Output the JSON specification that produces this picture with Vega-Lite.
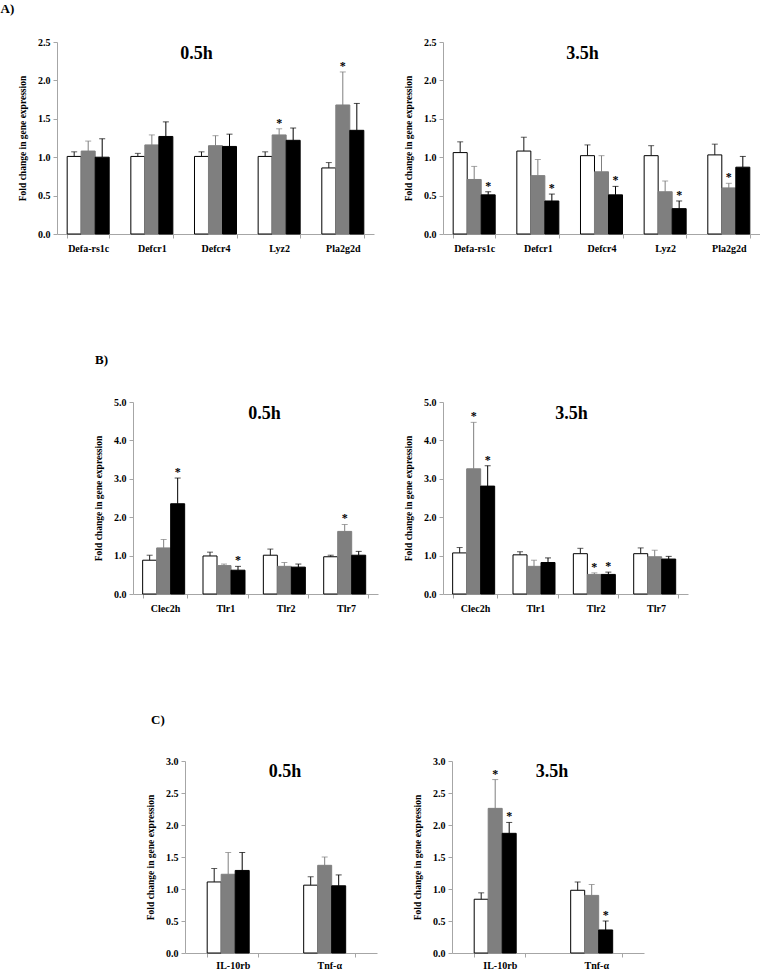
{
  "$schema": "https://vega.github.io/schema/vega-lite/v6.json",
  "padding": {"left": 0, "top": 3, "right": 0, "bottom": 0},
  "background": "white",
  "config": {
    "view": {"stroke": null},
    "font": "Liberation Serif",
    "axis": {"grid": false, "labelOverlap": false, "domainColor": "#a6a6a6", "tickColor": "#a6a6a6", "tickSize": 4, "labelFont": "Liberation Serif", "labelFontWeight": "bold", "labelFontSize": 10, "labelColor": "#000", "titleFont": "Liberation Serif", "titleFontWeight": "bold", "titleFontSize": 9.5, "titleColor": "#000"},
    "axisX": {"labelAngle": 0, "tickBand": "extent", "labelPadding": 5, "title": null},
    "axisY": {"labelPadding": 3, "titlePadding": 10, "format": ".1f"},
    "title": {"font": "Liberation Serif", "fontWeight": "bold", "color": "#000"},
    "text": {"fill": "#000"}
  },
  "datasets": {
    "d": [
      {"p":"A05","g":"Defa-rs1c","k":"1","v":1.01,"u":1.07,"s":0},
      {"p":"A05","g":"Defa-rs1c","k":"2","v":1.08,"u":1.21,"s":0},
      {"p":"A05","g":"Defa-rs1c","k":"3","v":1.00,"u":1.24,"s":0},
      {"p":"A05","g":"Defcr1","k":"1","v":1.01,"u":1.05,"s":0},
      {"p":"A05","g":"Defcr1","k":"2","v":1.16,"u":1.29,"s":0},
      {"p":"A05","g":"Defcr1","k":"3","v":1.27,"u":1.46,"s":0},
      {"p":"A05","g":"Defcr4","k":"1","v":1.01,"u":1.07,"s":0},
      {"p":"A05","g":"Defcr4","k":"2","v":1.15,"u":1.28,"s":0},
      {"p":"A05","g":"Defcr4","k":"3","v":1.14,"u":1.30,"s":0},
      {"p":"A05","g":"Lyz2","k":"1","v":1.01,"u":1.07,"s":0},
      {"p":"A05","g":"Lyz2","k":"2","v":1.29,"u":1.37,"s":1},
      {"p":"A05","g":"Lyz2","k":"3","v":1.22,"u":1.38,"s":0},
      {"p":"A05","g":"Pla2g2d","k":"1","v":0.86,"u":0.93,"s":0},
      {"p":"A05","g":"Pla2g2d","k":"2","v":1.68,"u":2.11,"s":1},
      {"p":"A05","g":"Pla2g2d","k":"3","v":1.35,"u":1.70,"s":0},
      {"p":"A35","g":"Defa-rs1c","k":"1","v":1.06,"u":1.20,"s":0},
      {"p":"A35","g":"Defa-rs1c","k":"2","v":0.71,"u":0.88,"s":0},
      {"p":"A35","g":"Defa-rs1c","k":"3","v":0.51,"u":0.55,"s":1},
      {"p":"A35","g":"Defcr1","k":"1","v":1.08,"u":1.26,"s":0},
      {"p":"A35","g":"Defcr1","k":"2","v":0.76,"u":0.97,"s":0},
      {"p":"A35","g":"Defcr1","k":"3","v":0.43,"u":0.52,"s":1},
      {"p":"A35","g":"Defcr4","k":"1","v":1.02,"u":1.16,"s":0},
      {"p":"A35","g":"Defcr4","k":"2","v":0.81,"u":1.02,"s":0},
      {"p":"A35","g":"Defcr4","k":"3","v":0.51,"u":0.62,"s":1},
      {"p":"A35","g":"Lyz2","k":"1","v":1.02,"u":1.15,"s":0},
      {"p":"A35","g":"Lyz2","k":"2","v":0.55,"u":0.69,"s":0},
      {"p":"A35","g":"Lyz2","k":"3","v":0.33,"u":0.43,"s":1},
      {"p":"A35","g":"Pla2g2d","k":"1","v":1.03,"u":1.17,"s":0},
      {"p":"A35","g":"Pla2g2d","k":"2","v":0.60,"u":0.66,"s":1},
      {"p":"A35","g":"Pla2g2d","k":"3","v":0.87,"u":1.01,"s":0},
      {"p":"B05","g":"Clec2h","k":"1","v":0.88,"u":1.01,"s":0},
      {"p":"B05","g":"Clec2h","k":"2","v":1.20,"u":1.42,"s":0},
      {"p":"B05","g":"Clec2h","k":"3","v":2.35,"u":3.02,"s":1},
      {"p":"B05","g":"Tlr1","k":"1","v":0.99,"u":1.09,"s":0},
      {"p":"B05","g":"Tlr1","k":"2","v":0.74,"u":0.78,"s":0},
      {"p":"B05","g":"Tlr1","k":"3","v":0.62,"u":0.72,"s":1},
      {"p":"B05","g":"Tlr2","k":"1","v":1.01,"u":1.17,"s":0},
      {"p":"B05","g":"Tlr2","k":"2","v":0.72,"u":0.82,"s":0},
      {"p":"B05","g":"Tlr2","k":"3","v":0.70,"u":0.78,"s":0},
      {"p":"B05","g":"Tlr7","k":"1","v":0.97,"u":1.01,"s":0},
      {"p":"B05","g":"Tlr7","k":"2","v":1.63,"u":1.81,"s":1},
      {"p":"B05","g":"Tlr7","k":"3","v":1.01,"u":1.11,"s":0},
      {"p":"B35","g":"Clec2h","k":"1","v":1.07,"u":1.21,"s":0},
      {"p":"B35","g":"Clec2h","k":"2","v":3.26,"u":4.47,"s":1},
      {"p":"B35","g":"Clec2h","k":"3","v":2.81,"u":3.34,"s":1},
      {"p":"B35","g":"Tlr1","k":"1","v":1.02,"u":1.10,"s":0},
      {"p":"B35","g":"Tlr1","k":"2","v":0.72,"u":0.88,"s":0},
      {"p":"B35","g":"Tlr1","k":"3","v":0.82,"u":0.94,"s":0},
      {"p":"B35","g":"Tlr2","k":"1","v":1.05,"u":1.19,"s":0},
      {"p":"B35","g":"Tlr2","k":"2","v":0.51,"u":0.55,"s":1},
      {"p":"B35","g":"Tlr2","k":"3","v":0.51,"u":0.57,"s":1},
      {"p":"B35","g":"Tlr7","k":"1","v":1.05,"u":1.20,"s":0},
      {"p":"B35","g":"Tlr7","k":"2","v":0.97,"u":1.14,"s":0},
      {"p":"B35","g":"Tlr7","k":"3","v":0.91,"u":0.98,"s":0},
      {"p":"C05","g":"IL-10rb","k":"1","v":1.11,"u":1.32,"s":0},
      {"p":"C05","g":"IL-10rb","k":"2","v":1.23,"u":1.57,"s":0},
      {"p":"C05","g":"IL-10rb","k":"3","v":1.29,"u":1.57,"s":0},
      {"p":"C05","g":"Tnf-α","k":"1","v":1.06,"u":1.19,"s":0},
      {"p":"C05","g":"Tnf-α","k":"2","v":1.37,"u":1.50,"s":0},
      {"p":"C05","g":"Tnf-α","k":"3","v":1.05,"u":1.22,"s":0},
      {"p":"C35","g":"IL-10rb","k":"1","v":0.84,"u":0.94,"s":0},
      {"p":"C35","g":"IL-10rb","k":"2","v":2.26,"u":2.71,"s":1},
      {"p":"C35","g":"IL-10rb","k":"3","v":1.87,"u":2.04,"s":1},
      {"p":"C35","g":"Tnf-α","k":"1","v":0.98,"u":1.11,"s":0},
      {"p":"C35","g":"Tnf-α","k":"2","v":0.90,"u":1.07,"s":0},
      {"p":"C35","g":"Tnf-α","k":"3","v":0.36,"u":0.50,"s":1}
    ]
  },
  "data": {"name": "d"},
  "spacing": 101,
  "vconcat": [
    {
      "title": {"text": "A)", "anchor": "start", "fontSize": 13, "offset": 21, "dx": -17},
      "spacing": 29,
      "hconcat": [
        {
          "width": 317, "height": 192,
          "title": {"text": "0.5h", "fontSize": 18, "frame": "group", "anchor": "middle", "offset": -26, "dx": -19},
          "transform": [{"filter": "datum.p === 'A05'"}],
          "encoding": {
            "x": {"field": "g", "type": "nominal", "sort": null, "scale": {"paddingInner": 0.34, "paddingOuter": 0.16}},
            "xOffset": {"field": "k", "type": "nominal", "scale": {"paddingInner": 0, "paddingOuter": 0}}
          },
          "layer": [
            {"mark": {"type": "bar", "strokeWidth": 1}, "encoding": {"y": {"field": "v", "type": "quantitative", "scale": {"domain": [0, 2.5]}, "axis": {"values": [0, 0.5, 1, 1.5, 2, 2.5], "labelOverlap": false, "title": "Fold change in gene expression"}}, "fill": {"field": "k", "type": "nominal", "scale": {"domain": ["1","2","3"], "range": ["#ffffff", "#7f7f7f", "#000000"]}, "legend": null}, "stroke": {"field": "k", "type": "nominal", "scale": {"domain": ["1","2","3"], "range": ["#000000", "#7f7f7f", "#000000"]}, "legend": null}}},
            {"mark": {"type": "rule", "strokeWidth": 1}, "encoding": {"y": {"field": "v", "type": "quantitative", "scale": {"domain": [0, 2.5]}, "axis": {"values": [0, 0.5, 1, 1.5, 2, 2.5], "labelOverlap": false, "title": "Fold change in gene expression"}}, "y2": {"field": "u"}, "color": {"field": "k", "type": "nominal", "scale": {"domain": ["1","2","3"], "range": ["#1a1a1a", "#7f7f7f", "#000000"]}, "legend": null}}},
            {"mark": {"type": "tick", "size": 6, "thickness": 1}, "encoding": {"y": {"field": "u", "type": "quantitative", "scale": {"domain": [0, 2.5]}, "axis": {"values": [0, 0.5, 1, 1.5, 2, 2.5], "labelOverlap": false, "title": "Fold change in gene expression"}}, "color": {"field": "k", "type": "nominal", "legend": null}}},
            {"transform": [{"filter": "datum.s === 1"}], "mark": {"type": "text", "text": "*", "fontSize": 12, "fontWeight": "bold", "baseline": "alphabetic", "dy": -2, "color": "#000"}, "encoding": {"y": {"field": "u", "type": "quantitative", "scale": {"domain": [0, 2.5]}, "axis": {"values": [0, 0.5, 1, 1.5, 2, 2.5], "labelOverlap": false, "title": "Fold change in gene expression"}}}}
          ]
        },
        {
          "width": 317, "height": 192,
          "title": {"text": "3.5h", "fontSize": 18, "frame": "group", "anchor": "middle", "offset": -26, "dx": -19},
          "transform": [{"filter": "datum.p === 'A35'"}],
          "encoding": {
            "x": {"field": "g", "type": "nominal", "sort": null, "scale": {"paddingInner": 0.34, "paddingOuter": 0.16}},
            "xOffset": {"field": "k", "type": "nominal", "scale": {"paddingInner": 0, "paddingOuter": 0}}
          },
          "layer": [
            {"mark": {"type": "bar", "strokeWidth": 1}, "encoding": {"y": {"field": "v", "type": "quantitative", "scale": {"domain": [0, 2.5]}, "axis": {"values": [0, 0.5, 1, 1.5, 2, 2.5], "labelOverlap": false, "title": "Fold change in gene expression"}}, "fill": {"field": "k", "type": "nominal", "scale": {"domain": ["1","2","3"], "range": ["#ffffff", "#7f7f7f", "#000000"]}, "legend": null}, "stroke": {"field": "k", "type": "nominal", "scale": {"domain": ["1","2","3"], "range": ["#000000", "#7f7f7f", "#000000"]}, "legend": null}}},
            {"mark": {"type": "rule", "strokeWidth": 1}, "encoding": {"y": {"field": "v", "type": "quantitative", "scale": {"domain": [0, 2.5]}, "axis": {"values": [0, 0.5, 1, 1.5, 2, 2.5], "labelOverlap": false, "title": "Fold change in gene expression"}}, "y2": {"field": "u"}, "color": {"field": "k", "type": "nominal", "scale": {"domain": ["1","2","3"], "range": ["#1a1a1a", "#7f7f7f", "#000000"]}, "legend": null}}},
            {"mark": {"type": "tick", "size": 6, "thickness": 1}, "encoding": {"y": {"field": "u", "type": "quantitative", "scale": {"domain": [0, 2.5]}, "axis": {"values": [0, 0.5, 1, 1.5, 2, 2.5], "labelOverlap": false, "title": "Fold change in gene expression"}}, "color": {"field": "k", "type": "nominal", "legend": null}}},
            {"transform": [{"filter": "datum.s === 1"}], "mark": {"type": "text", "text": "*", "fontSize": 12, "fontWeight": "bold", "baseline": "alphabetic", "dy": -2, "color": "#000"}, "encoding": {"y": {"field": "u", "type": "quantitative", "scale": {"domain": [0, 2.5]}, "axis": {"values": [0, 0.5, 1, 1.5, 2, 2.5], "labelOverlap": false, "title": "Fold change in gene expression"}}}}
          ]
        }
      ]
    },
    {
      "title": {"text": "B)", "anchor": "start", "fontSize": 13, "offset": 30, "dx": 38},
      "spacing": 25,
      "hconcat": [
        {"width": 11, "height": 1, "data": {"values": [{"z": 1}]}, "mark": {"type": "rect", "opacity": 0}, "encoding": {}},
        {
          "width": 245, "height": 192,
          "title": {"text": "0.5h", "fontSize": 18, "frame": "group", "anchor": "middle", "offset": -26, "dx": 9},
          "transform": [{"filter": "datum.p === 'B05'"}],
          "encoding": {
            "x": {"field": "g", "type": "nominal", "sort": null, "scale": {"paddingInner": 0.26, "paddingOuter": 0.16}},
            "xOffset": {"field": "k", "type": "nominal", "scale": {"paddingInner": 0, "paddingOuter": 0}}
          },
          "layer": [
            {"mark": {"type": "bar", "strokeWidth": 1}, "encoding": {"y": {"field": "v", "type": "quantitative", "scale": {"domain": [0, 5]}, "axis": {"values": [0, 1, 2, 3, 4, 5], "labelOverlap": false, "title": "Fold change in gene expression"}}, "fill": {"field": "k", "type": "nominal", "scale": {"domain": ["1","2","3"], "range": ["#ffffff", "#7f7f7f", "#000000"]}, "legend": null}, "stroke": {"field": "k", "type": "nominal", "scale": {"domain": ["1","2","3"], "range": ["#000000", "#7f7f7f", "#000000"]}, "legend": null}}},
            {"mark": {"type": "rule", "strokeWidth": 1}, "encoding": {"y": {"field": "v", "type": "quantitative", "scale": {"domain": [0, 5]}, "axis": {"values": [0, 1, 2, 3, 4, 5], "labelOverlap": false, "title": "Fold change in gene expression"}}, "y2": {"field": "u"}, "color": {"field": "k", "type": "nominal", "scale": {"domain": ["1","2","3"], "range": ["#1a1a1a", "#7f7f7f", "#000000"]}, "legend": null}}},
            {"mark": {"type": "tick", "size": 6, "thickness": 1}, "encoding": {"y": {"field": "u", "type": "quantitative", "scale": {"domain": [0, 5]}, "axis": {"values": [0, 1, 2, 3, 4, 5], "labelOverlap": false, "title": "Fold change in gene expression"}}, "color": {"field": "k", "type": "nominal", "legend": null}}},
            {"transform": [{"filter": "datum.s === 1"}], "mark": {"type": "text", "text": "*", "fontSize": 12, "fontWeight": "bold", "baseline": "alphabetic", "dy": -2, "color": "#000"}, "encoding": {"y": {"field": "u", "type": "quantitative", "scale": {"domain": [0, 5]}, "axis": {"values": [0, 1, 2, 3, 4, 5], "labelOverlap": false, "title": "Fold change in gene expression"}}}}
          ]
        },
        {
          "width": 245, "height": 192,
          "title": {"text": "3.5h", "fontSize": 18, "frame": "group", "anchor": "middle", "offset": -26, "dx": 6},
          "transform": [{"filter": "datum.p === 'B35'"}],
          "encoding": {
            "x": {"field": "g", "type": "nominal", "sort": null, "scale": {"paddingInner": 0.26, "paddingOuter": 0.16}},
            "xOffset": {"field": "k", "type": "nominal", "scale": {"paddingInner": 0, "paddingOuter": 0}}
          },
          "layer": [
            {"mark": {"type": "bar", "strokeWidth": 1}, "encoding": {"y": {"field": "v", "type": "quantitative", "scale": {"domain": [0, 5]}, "axis": {"values": [0, 1, 2, 3, 4, 5], "labelOverlap": false, "title": "Fold change in gene expression"}}, "fill": {"field": "k", "type": "nominal", "scale": {"domain": ["1","2","3"], "range": ["#ffffff", "#7f7f7f", "#000000"]}, "legend": null}, "stroke": {"field": "k", "type": "nominal", "scale": {"domain": ["1","2","3"], "range": ["#000000", "#7f7f7f", "#000000"]}, "legend": null}}},
            {"mark": {"type": "rule", "strokeWidth": 1}, "encoding": {"y": {"field": "v", "type": "quantitative", "scale": {"domain": [0, 5]}, "axis": {"values": [0, 1, 2, 3, 4, 5], "labelOverlap": false, "title": "Fold change in gene expression"}}, "y2": {"field": "u"}, "color": {"field": "k", "type": "nominal", "scale": {"domain": ["1","2","3"], "range": ["#1a1a1a", "#7f7f7f", "#000000"]}, "legend": null}}},
            {"mark": {"type": "tick", "size": 6, "thickness": 1}, "encoding": {"y": {"field": "u", "type": "quantitative", "scale": {"domain": [0, 5]}, "axis": {"values": [0, 1, 2, 3, 4, 5], "labelOverlap": false, "title": "Fold change in gene expression"}}, "color": {"field": "k", "type": "nominal", "legend": null}}},
            {"transform": [{"filter": "datum.s === 1"}], "mark": {"type": "text", "text": "*", "fontSize": 12, "fontWeight": "bold", "baseline": "alphabetic", "dy": -2, "color": "#000"}, "encoding": {"y": {"field": "u", "type": "quantitative", "scale": {"domain": [0, 5]}, "axis": {"values": [0, 1, 2, 3, 4, 5], "labelOverlap": false, "title": "Fold change in gene expression"}}}}
          ]
        }
      ]
    },
    {
      "title": {"text": "C)", "anchor": "start", "fontSize": 13, "offset": 29, "dx": 94},
      "spacing": 35,
      "hconcat": [
        {"width": 53, "height": 1, "data": {"values": [{"z": 1}]}, "mark": {"type": "rect", "opacity": 0}, "encoding": {}},
        {
          "width": 192, "height": 192,
          "title": {"text": "0.5h", "fontSize": 18, "frame": "group", "anchor": "middle", "offset": -25, "dx": 4},
          "transform": [{"filter": "datum.p === 'C05'"}],
          "encoding": {
            "x": {"field": "g", "type": "nominal", "sort": null, "scale": {"paddingInner": 0.47, "paddingOuter": 0.23}, "axis": {"labelPadding": 3}},
            "xOffset": {"field": "k", "type": "nominal", "scale": {"paddingInner": 0, "paddingOuter": 0}}
          },
          "layer": [
            {"mark": {"type": "bar", "strokeWidth": 1}, "encoding": {"y": {"field": "v", "type": "quantitative", "scale": {"domain": [0, 3]}, "axis": {"values": [0, 0.5, 1, 1.5, 2, 2.5, 3], "labelOverlap": false, "title": "Fold change in gene expression"}}, "fill": {"field": "k", "type": "nominal", "scale": {"domain": ["1","2","3"], "range": ["#ffffff", "#7f7f7f", "#000000"]}, "legend": null}, "stroke": {"field": "k", "type": "nominal", "scale": {"domain": ["1","2","3"], "range": ["#000000", "#7f7f7f", "#000000"]}, "legend": null}}},
            {"mark": {"type": "rule", "strokeWidth": 1}, "encoding": {"y": {"field": "v", "type": "quantitative", "scale": {"domain": [0, 3]}, "axis": {"values": [0, 0.5, 1, 1.5, 2, 2.5, 3], "labelOverlap": false, "title": "Fold change in gene expression"}}, "y2": {"field": "u"}, "color": {"field": "k", "type": "nominal", "scale": {"domain": ["1","2","3"], "range": ["#1a1a1a", "#7f7f7f", "#000000"]}, "legend": null}}},
            {"mark": {"type": "tick", "size": 6, "thickness": 1}, "encoding": {"y": {"field": "u", "type": "quantitative", "scale": {"domain": [0, 3]}, "axis": {"values": [0, 0.5, 1, 1.5, 2, 2.5, 3], "labelOverlap": false, "title": "Fold change in gene expression"}}, "color": {"field": "k", "type": "nominal", "legend": null}}},
            {"transform": [{"filter": "datum.s === 1"}], "mark": {"type": "text", "text": "*", "fontSize": 12, "fontWeight": "bold", "baseline": "alphabetic", "dy": -2, "color": "#000"}, "encoding": {"y": {"field": "u", "type": "quantitative", "scale": {"domain": [0, 3]}, "axis": {"values": [0, 0.5, 1, 1.5, 2, 2.5, 3], "labelOverlap": false, "title": "Fold change in gene expression"}}}}
          ]
        },
        {
          "width": 192, "height": 192,
          "title": {"text": "3.5h", "fontSize": 18, "frame": "group", "anchor": "middle", "offset": -25, "dx": 4},
          "transform": [{"filter": "datum.p === 'C35'"}],
          "encoding": {
            "x": {"field": "g", "type": "nominal", "sort": null, "scale": {"paddingInner": 0.47, "paddingOuter": 0.23}, "axis": {"labelPadding": 3}},
            "xOffset": {"field": "k", "type": "nominal", "scale": {"paddingInner": 0, "paddingOuter": 0}}
          },
          "layer": [
            {"mark": {"type": "bar", "strokeWidth": 1}, "encoding": {"y": {"field": "v", "type": "quantitative", "scale": {"domain": [0, 3]}, "axis": {"values": [0, 0.5, 1, 1.5, 2, 2.5, 3], "labelOverlap": false, "title": "Fold change in gene expression"}}, "fill": {"field": "k", "type": "nominal", "scale": {"domain": ["1","2","3"], "range": ["#ffffff", "#7f7f7f", "#000000"]}, "legend": null}, "stroke": {"field": "k", "type": "nominal", "scale": {"domain": ["1","2","3"], "range": ["#000000", "#7f7f7f", "#000000"]}, "legend": null}}},
            {"mark": {"type": "rule", "strokeWidth": 1}, "encoding": {"y": {"field": "v", "type": "quantitative", "scale": {"domain": [0, 3]}, "axis": {"values": [0, 0.5, 1, 1.5, 2, 2.5, 3], "labelOverlap": false, "title": "Fold change in gene expression"}}, "y2": {"field": "u"}, "color": {"field": "k", "type": "nominal", "scale": {"domain": ["1","2","3"], "range": ["#1a1a1a", "#7f7f7f", "#000000"]}, "legend": null}}},
            {"mark": {"type": "tick", "size": 6, "thickness": 1}, "encoding": {"y": {"field": "u", "type": "quantitative", "scale": {"domain": [0, 3]}, "axis": {"values": [0, 0.5, 1, 1.5, 2, 2.5, 3], "labelOverlap": false, "title": "Fold change in gene expression"}}, "color": {"field": "k", "type": "nominal", "legend": null}}},
            {"transform": [{"filter": "datum.s === 1"}], "mark": {"type": "text", "text": "*", "fontSize": 12, "fontWeight": "bold", "baseline": "alphabetic", "dy": -2, "color": "#000"}, "encoding": {"y": {"field": "u", "type": "quantitative", "scale": {"domain": [0, 3]}, "axis": {"values": [0, 0.5, 1, 1.5, 2, 2.5, 3], "labelOverlap": false, "title": "Fold change in gene expression"}}}}
          ]
        }
      ]
    }
  ]
}
